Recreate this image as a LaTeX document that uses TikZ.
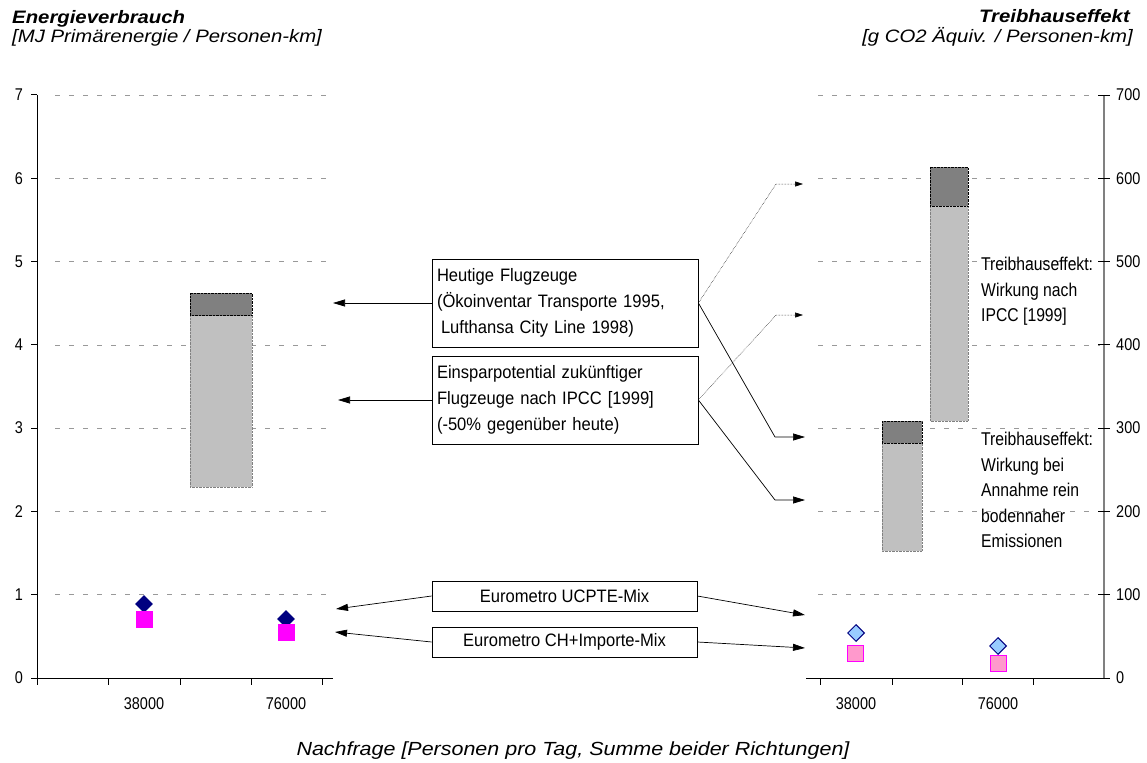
\documentclass[tikz,border=0pt]{standalone}
\usepackage{fontspec}
\setmainfont{Liberation Sans}
\newfontfamily\boxfont[FakeStretch=0.92]{Liberation Sans}
\newfontfamily\notefont[FakeStretch=0.85]{Liberation Sans}
\newfontfamily\axisfont[FakeStretch=0.85]{Liberation Sans}
\newfontfamily\headfont[FakeStretch=1.13]{Liberation Sans}
\usetikzlibrary{arrows.meta,shapes.geometric}
\definecolor{darkbar}{RGB}{128,128,128}
\definecolor{lightbar}{RGB}{192,192,192}
\definecolor{navy}{RGB}{0,0,128}
\definecolor{lightblue}{RGB}{153,204,255}
\definecolor{pinkish}{RGB}{255,153,204}
\definecolor{fuchsia}{RGB}{255,0,255}

\begin{document}
\begin{tikzpicture}[x=1pt,y=-1pt,
	grid/.style={gray!80,dash pattern=on 5pt off 9pt,line width=0.6pt},
	lbox/.style={draw,fill=white,line width=0.8pt,inner sep=5pt,font=\boxfont\fontsize{18}{26}\selectfont},
	ptr/.style={-{Triangle[length=12pt,width=7pt]},line width=0.7pt},
	dptr/.style={-{Triangle[length=8pt,width=5pt]},densely dotted,line width=0.5pt},
	tick/.style={font=\axisfont\fontsize{17}{20}\selectfont,inner sep=2pt},
	head/.style={inner sep=0,font=\headfont\fontsize{18}{22}\selectfont\itshape},
	note/.style={anchor=north west,align=left,inner sep=0,font=\notefont\fontsize{18.5}{25.5}\selectfont}]
	\useasboundingbox[fill=white] (0,0) rectangle (1147,762);

	\node[head,anchor=base west,font=\headfont\fontsize{18}{22}\selectfont\bfseries\itshape] (h1) at (12,24) {Energieverbrauch};
	\node[head,anchor=base west] (h2) at (12,43) {[MJ Primärenergie / Personen-km]};
	\node[head,anchor=base east,font=\headfont\fontsize{18}{22}\selectfont\bfseries\itshape] (h3) at (1130,23) {Treibhauseffekt};
	\node[head,anchor=base east] (h4) at (1133,43) {[g CO2 Äquiv. / Personen-km]};
	\node[head,anchor=base,font=\headfont\fontsize{19}{22}\selectfont\itshape] (h5) at (573,755) {Nachfrage [Personen pro Tag, Summe beider Richtungen]};

	\foreach \v in {1,...,7} {
		\draw[grid] (55,{678-83.3*\v}) -- (333,{678-83.3*\v});
		\draw[grid] (818,{678-83.3*\v}) -- (1100,{678-83.3*\v});
	}

	\draw[line width=0.8pt] (37,95) -- (37,678) -- (333,678);
	\foreach \v in {0,...,7} {
		\draw[line width=0.8pt] (31,{678-83.3*\v}) -- (37,{678-83.3*\v});
		\node[tick,anchor=east] (yl\v) at (25,{678-83.3*\v}) {\v};
	}
	\foreach \x in {37,108,180,251,322} \draw[line width=0.8pt] (\x,678) -- (\x,685);
	\node[tick] (xl1) at (144,704) {38000};
	\node[tick] (xl2) at (286,704) {76000};

	\draw[line width=0.8pt] (806,678) -- (1104,678);
	\draw[darkbar,line width=1.2pt] (1104,95) -- (1104,678);
	\foreach \v in {0,100,...,700} {
		\draw[line width=0.8pt] (1098,{678-0.833*\v}) -- (1110,{678-0.833*\v});
		\node[tick,anchor=west] (yr\v) at (1114,{678-0.833*\v}) {\v};
	}
	\foreach \x in {820,892,962,1033} \draw[line width=0.8pt] (\x,678) -- (\x,685);
	\node[tick] (xr1) at (856,704) {38000};
	\node[tick] (xr2) at (998,704) {76000};

	\filldraw[fill=lightbar,draw=gray,densely dotted] (190,315) rectangle (252,487);
	\filldraw[fill=darkbar,draw=black,densely dotted] (190,293) rectangle (252,315);
	\filldraw[fill=lightbar,draw=gray,densely dotted] (930,206) rectangle (968,421);
	\filldraw[fill=darkbar,draw=black,densely dotted] (930,167) rectangle (968,206);
	\filldraw[fill=lightbar,draw=gray,densely dotted] (882,443) rectangle (922,551);
	\filldraw[fill=darkbar,draw=black,densely dotted] (882,421) rectangle (922,443);

	\node[diamond,fill=navy,minimum width=18pt,minimum height=18pt,inner sep=0] (m1) at (144,604) {};
	\node[fill=fuchsia,minimum size=17pt,inner sep=0] (q1) at (144,619.5) {};
	\node[diamond,fill=navy,minimum width=18pt,minimum height=18pt,inner sep=0] (m2) at (286,619) {};
	\node[fill=fuchsia,minimum size=17pt,inner sep=0] (q2) at (286,632.5) {};
	\node[diamond,fill=lightblue,draw=navy,line width=1pt,minimum width=17pt,minimum height=17pt,inner sep=0] (m3) at (856,633) {};
	\node[fill=pinkish,draw=fuchsia,line width=1pt,minimum size=16pt,inner sep=0] (q3) at (855.5,653) {};
	\node[diamond,fill=lightblue,draw=navy,line width=1pt,minimum width=17pt,minimum height=17pt,inner sep=0] (m4) at (998,646) {};
	\node[fill=pinkish,draw=fuchsia,line width=1pt,minimum size=16pt,inner sep=0] (q4) at (998.5,663) {};

	\node[note] (n1) at (981,257) {Treibhauseffekt:\\Wirkung nach\\IPCC [1999]};
	\node[note] (n2) at (981,432) {Treibhauseffekt:\\Wirkung bei\\Annahme rein\\bodennaher\\Emissionen};

	\node[lbox,align=left,text width=256pt,minimum height=88pt] (b1) at (565,303) {Heutige Flugzeuge\\(Ökoinventar Transporte 1995,\\\hspace{4pt}Lufthansa City Line 1998)};
	\node[lbox,align=left,text width=256pt,minimum height=88pt] (b2) at (565,400) {Einsparpotential zukünftiger\\Flugzeuge nach IPCC [1999]\\(-50\% gegenüber heute)};
	\node[lbox,minimum width=265pt,minimum height=30pt] (b3) at (564.5,596) {Eurometro UCPTE-Mix};
	\node[lbox,minimum width=265pt,minimum height=30pt] (b4) at (564.5,642) {Eurometro CH+Importe-Mix};

	\coordinate (e1) at (333,303);
	\coordinate (e2) at (338,400);
	\coordinate (k1) at (775,437);
	\coordinate (e3) at (805,437);
	\coordinate (k2) at (776,184);
	\coordinate (e4) at (803,184);
	\coordinate (k3) at (775,500);
	\coordinate (e5) at (805,500);
	\coordinate (k4) at (776,315);
	\coordinate (e6) at (803,315);
	\coordinate (e7) at (336,609);
	\coordinate (e8) at (805,615);
	\coordinate (e9) at (335,632);
	\coordinate (e10) at (805,648);

	\draw[ptr] (b1.west) -- (e1);
	\draw[ptr] (b2.west) -- (e2);
	\draw[ptr] (b1.east) -- (k1) -- (e3);
	\draw[dptr] (b1.east) -- (k2) -- (e4);
	\draw[ptr] (b2.east) -- (k3) -- (e5);
	\draw[dptr] (b2.east) -- (k4) -- (e6);
	\draw[ptr] (b3.west) -- (e7);
	\draw[ptr] (b3.east) -- (e8);
	\draw[ptr] (b4.west) -- (e9);
	\draw[ptr] (b4.east) -- (e10);
\end{tikzpicture}
\end{document}
